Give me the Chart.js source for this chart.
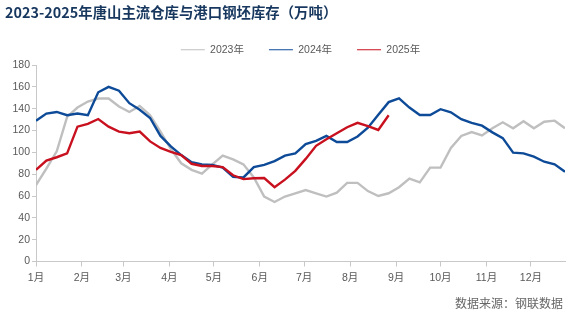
<!DOCTYPE html>
<html>
<head>
<meta charset="utf-8">
<script src="https://cdn.jsdelivr.net/npm/chart.js@4"></script>
<style>
  html, body { margin: 0; padding: 0; background: #fff; }
  #wrap { position: relative; width: 585px; height: 329px; }
  #myChart { position: absolute; left: 0; top: 0; }
  #title { position: absolute; left: 5px; top: 4px; font: bold 14.4px/16px "Noto Sans CJK SC", sans-serif; color: #17375E; white-space: nowrap; }
  #source { position: absolute; right: 22px; top: 295px; font: 12px/15px "Noto Sans CJK SC", sans-serif; color: #666; white-space: nowrap; }
</style>
</head>
<body>
<div id="wrap">
  <canvas id="myChart" width="585" height="329"></canvas>
  <div id="title">2023-2025年唐山主流仓库与港口钢坯库存（万吨）</div>
  <div id="source">数据来源：钢联数据</div>
</div>
<script>
// week offsets (days from 1 Jan) for the weekly readings
var weekDays = [0, 7, 14, 21, 28, 35, 42, 49, 56, 63, 70, 77, 84, 91, 98, 105, 112, 119, 126, 133,
    140, 147, 154, 161, 168, 175, 182, 189, 196, 203, 210, 217, 224, 231, 238, 245, 252, 259, 266, 273,
    280, 287, 294, 301, 308, 315, 322, 329, 336, 343, 350, 357];

// month ticks on the x axis
var monthDays = [0, 31, 59, 90, 120, 151, 181, 212, 243, 273, 304, 334];
var monthLabels = ['1月', '2月', '3月', '4月', '5月', '6月', '7月', '8月', '9月', '10月', '11月', '12月'];

// stocks, 10k tonnes
var stock2023 = [70, 85, 101, 132.5, 141, 146.5, 149.3, 149.3, 142, 137, 142.5, 134, 119, 103, 90, 84, 80.5, 89, 97, 93.5,
    89, 77, 59.5, 54.5, 59.5, 62.5, 65.5, 62.5, 59.5, 63, 72, 72, 64.5, 60, 62.5, 68, 76, 72.5, 86, 86,
    104, 115, 118.5, 115.5, 122, 127.5, 122, 128.5, 122, 128, 129, 122];
var stock2024 = [129, 135.5, 137, 134, 135.5, 134, 155, 160, 156.5, 145, 139, 131.5, 115, 105.5, 97.5, 91, 89, 88.5, 86, 77.5,
    77, 86.5, 88.5, 92, 97, 99, 107.5, 110.5, 115, 109.5, 109.5, 114.5, 122.5, 134.5, 146, 149.5, 141, 134.2, 134.2, 139.5,
    136.7, 130.3, 127, 124.4, 118.3, 113, 99.7, 99.1, 96, 91.4, 89, 82.3];
var stock2025 = [84, 92.5, 95.5, 99, 123.5, 126, 130.5, 123.5, 119, 117.5, 119, 110, 104, 100.5, 97.5, 89.5, 87.5, 87.5, 86.5, 79,
    75.5, 76.2, 76.5, 68, 75, 83, 94, 106, 112, 117.5, 123, 127, 124, 120.5, 134];

function toPoints(values) {
    return values.map(function (v, i) { return { x: weekDays[i], y: v }; });
}

var axisColor = '#C8C8C8';
var labelFont = { family: '"Liberation Sans", "Noto Sans CJK SC", sans-serif', size: 10.5 };

var ctx = document.getElementById('myChart').getContext('2d');
var chart = new Chart(ctx, {
    type: 'line',
    data: {
        datasets: [{
            label: '2023年',
            data: toPoints(stock2023),
            borderColor: '#BFBFBF',
            backgroundColor: '#BFBFBF',
            order: 3
        }, {
            label: '2024年',
            data: toPoints(stock2024),
            borderColor: '#0D4A97',
            backgroundColor: '#0D4A97',
            order: 2
        }, {
            label: '2025年',
            data: toPoints(stock2025),
            borderColor: '#C8101E',
            backgroundColor: '#C8101E',
            order: 1
        }]
    },
    options: {
        responsive: false,
        animation: false,
        devicePixelRatio: 1,
        layout: { padding: { top: 19.5, left: 0, right: 20, bottom: 0 } },
        elements: {
            line: { borderWidth: 2.4, tension: 0 },
            point: { radius: 0 }
        },
        plugins: {
            tooltip: { enabled: false },
            legend: {
                position: 'top',
                fullSize: false,
                labels: {
                    usePointStyle: true,
                    pointStyle: 'line',
                    pointStyleWidth: 24,
                    padding: 25,
                    color: '#595959',
                    font: labelFont,
                    sort: function (a, b) { return a.datasetIndex - b.datasetIndex; }
                }
            }
        },
        scales: {
            x: {
                type: 'linear',
                min: 0,
                max: 357,
                afterBuildTicks: function (scale) {
                    scale.ticks = monthDays.map(function (d) { return { value: d }; });
                },
                afterFit: function (scale) { scale.height = 67.5; },
                ticks: {
                    autoSkip: false,
                    maxRotation: 0,
                    padding: 5,
                    color: '#595959',
                    font: labelFont,
                    callback: function (value) { return monthLabels[monthDays.indexOf(value)]; }
                },
                grid: { drawOnChartArea: false, drawTicks: true, tickLength: 5, color: axisColor },
                border: { color: axisColor, width: 1 }
            },
            y: {
                min: 0,
                max: 180,
                afterFit: function (scale) { scale.width = 36; },
                ticks: { stepSize: 20, padding: 2, color: '#595959', font: labelFont },
                grid: { drawOnChartArea: false, drawTicks: true, tickLength: 4, color: axisColor },
                border: { color: axisColor, width: 1 }
            }
        }
    }
});
</script>
</body>
</html>
